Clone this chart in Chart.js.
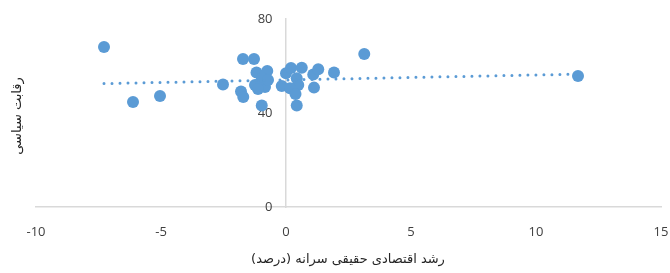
<!DOCTYPE html>
<html>
<head>
<meta charset="utf-8">
<script src="https://cdn.jsdelivr.net/npm/chart.js@4.4.0/dist/chart.umd.min.js"></script>
<style>
  body { margin: 0; background: #fff; }
  canvas { display: block; }
</style>
</head>
<body>
<canvas id="chart" width="670" height="273"></canvas>
<script>
// growth of real GDP per capita (%) vs. political competition
var growthX = [-7.28, -6.12, -5.04, -2.52, -1.72, -1.28, -1.80, -1.71, -0.97, -1.18,
               -0.75, -0.96, -1.24, -0.84, -1.12, -0.72, -0.17, 0.00, 0.20, 0.63,
               0.43, 0.49, 0.16, 0.38, 0.43, 1.09, 1.29, 1.12, 1.92, 3.13, 11.68];
var rivalryY = [68.1, 44.7, 47.2, 52.1, 63.0, 63.0, 49.1, 46.8, 43.2, 57.2,
                57.9, 54.8, 51.9, 51.1, 50.2, 54.0, 51.5, 56.9, 59.1, 59.3,
                54.8, 51.9, 50.5, 48.1, 43.2, 56.4, 58.6, 50.8, 57.2, 65.1, 55.7];
var xTicks = [-10, -5, 0, 5, 10, 15];
var yTicks = [0, 40, 80];
var xTitle = 'رشد اقتصادی حقیقی سرانه (درصد)';
var yTitle = 'رقابت سیاسی';

var blue = '#5B9BD5';

var points = growthX.map(function(x, i) { return {x: x, y: rivalryY[i]}; });

// linear trendline (least squares)
function trendline() {
  var n = growthX.length, sx = 0, sy = 0, sxy = 0, sxx = 0;
  for (var i = 0; i < n; i++) {
    sx += growthX[i]; sy += rivalryY[i];
    sxy += growthX[i] * rivalryY[i]; sxx += growthX[i] * growthX[i];
  }
  var b = (n * sxy - sx * sy) / (n * sxx - sx * sx);
  var a = (sy - b * sx) / n;
  var lo = Math.min.apply(null, growthX), hi = Math.max.apply(null, growthX);
  return [{x: lo, y: a + b * lo}, {x: hi, y: a + b * hi}];
}

var titlesPlugin = {
  id: 'persianTitles',
  afterDraw: function(chart) {
    var ctx = chart.ctx;
    ctx.save();
    ctx.fillStyle = '#262626';
    ctx.font = '13px "DejaVu Sans"';
    ctx.direction = 'rtl';
    ctx.textAlign = 'center';
    ctx.textBaseline = 'middle';
    ctx.fillText(xTitle, 348, 260);
    ctx.translate(18, 116);
    ctx.rotate(-Math.PI / 2);
    ctx.fillText(yTitle, 0, 0);
    ctx.restore();
  }
};

new Chart(document.getElementById('chart'), {
  type: 'scatter',
  data: {
    datasets: [{
      data: points,
      backgroundColor: blue,
      borderColor: blue,
      borderWidth: 0,
      pointRadius: 6,
      order: 1
    }, {
      type: 'line',
      data: trendline(),
      borderColor: blue,
      borderWidth: 3,
      borderDash: [0, 8],
      borderCapStyle: 'round',
      pointRadius: 0,
      fill: false,
      order: 0
    }]
  },
  options: {
    responsive: false,
    animation: false,
    layout: { padding: { left: 36, right: 9, top: 19, bottom: 26 } },
    plugins: { legend: { display: false }, tooltip: { enabled: false } },
    scales: {
      x: {
        type: 'linear',
        position: 'bottom',
        min: -10, max: 15,
        afterBuildTicks: function(s) { s.ticks = xTicks.map(function(v) { return {value: v}; }); },
        afterFit: function(s) { s.paddingLeft = 0; s.paddingRight = 0; s.height = 40; },
        grid: { display: false },
        border: { color: '#D9D9D9', width: 1.5 },
        ticks: { color: '#404040', font: { family: 'Open Sans', size: 13 }, padding: 9 }
      },
      y: {
        type: 'linear',
        position: { x: 0 },
        min: 0, max: 80,
        afterBuildTicks: function(s) { s.ticks = yTicks.map(function(v) { return {value: v}; }); },
        afterFit: function(s) { s.paddingTop = 0; s.paddingBottom = 0; },
        grid: { display: false },
        border: { color: '#D9D9D9', width: 1.5 },
        ticks: {
          color: '#404040',
          font: { family: 'Open Sans', size: 13 },
          padding: 0,
          // labels sit left of the crossing axis, keep a gap
          callback: function(v) { return v + '    '; }
        }
      }
    }
  },
  plugins: [titlesPlugin]
});
</script>
</body>
</html>
